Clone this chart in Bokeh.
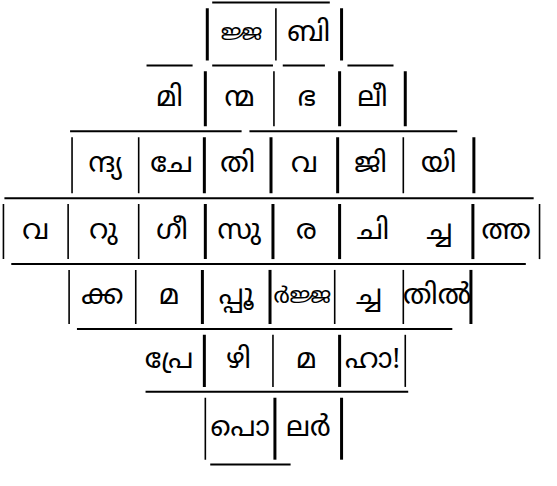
from bokeh.plotting import figure
from bokeh.models import Range1d, ColumnDataSource
from bokeh.core.properties import value
from bokeh.embed import file_html
from bokeh.resources import INLINE

# ---- puzzle contents (one list per row) ----
row1 = ["ജ്ജ", "ബി"]
row2 = ["മി", "ന്മ", "ഭ", "ലീ"]
row3 = ["ന്ദ്യ", "ചേ", "തി", "വ", "ജി", "യി"]
row4 = ["വ", "റു", "ഗീ", "സു", "ര", "ചി", "ച്ച", "ത്ത"]
row5 = ["ക്ക", "മ", "പ്പൂ", "ർജ്ജ", "ച്ച", "തിൽ"]
row6 = ["പ്രേ", "ഴി", "മ", "ഹാ!"]
row7 = ["പൊ", "ലർ"]
rows = [row1, row2, row3, row4, row5, row6, row7]

# ---- layout (pixel geometry of the grid) ----
row_tops = [6, 70, 137, 205, 272, 338, 402, 476]
col_edges = [
    [215, 285, 352],
    [140, 213, 283, 350, 417],
    [77, 145, 212, 280, 348, 415, 487],
    [7, 73, 145, 213, 282, 350, 418, 486, 554],
    [74, 142, 210, 279, 345, 415, 484],
    [140, 212, 282, 350, 417],
    [213, 284, 352],
]
hidden_edges = {(1, 140), (3, 418), (5, 140)}
thick_edges = {(1, 213), (1, 350), (1, 417), (2, 212), (2, 280), (2, 348), (2, 487),
               (3, 213), (3, 486), (4, 210), (4, 279), (4, 484), (5, 212), (5, 350),
               (6, 284), (6, 352), (0, 352), (0, 215), (3, 282), (3, 350)}
hlines = [
    (6, 220, 340),
    (70, 153, 200), (70, 220, 282), (70, 292, 335), (70, 358, 405),
    (137, 75, 250), (137, 258, 470),
    (205, 8, 548),
    (272, 15, 540),
    (338, 82, 465),
    (402, 152, 420),
    (476, 218, 300),
]

p = figure(width=541, height=470, output_backend="svg", toolbar_location=None,
           x_range=Range1d(4, 556), y_range=Range1d(482, 4), min_border=0)
p.axis.visible = False
p.grid.visible = False
p.outline_line_color = None
p.background_fill_color = "white"
p.border_fill_color = "white"

# horizontal rules
p.segment(x0=[h[1] for h in hlines], x1=[h[2] for h in hlines],
          y0=[h[0] for h in hlines], y1=[h[0] for h in hlines],
          line_color="black", line_width=2)

# vertical rules and letters
vx, vy0, vy1, vw = [], [], [], []
tx, ty, tt, ts = [], [], [], []
for i, (chars, edges) in enumerate(zip(rows, col_edges)):
    top, bot = row_tops[i], row_tops[i + 1]
    for e in edges:
        if (i, e) in hidden_edges:
            continue
        vx.append(e)
        vy0.append(top + 6)
        vy1.append(bot - 5)
        vw.append(3 if (i, e) in thick_edges else 1.6)
    for k, c in enumerate(chars):
        tx.append((edges[k] + edges[k + 1]) / 2)
        ty.append((top + bot) / 2 + 1)
        tt.append(c)
        # wide stacked conjuncts are narrower in the print: shrink them
        ts.append("22px" if "ജ്ജ" in c else "28px")

src = ColumnDataSource(dict(x=tx, y=ty, text=tt, size=ts))
p.segment(x0=vx, x1=vx, y0=vy0, y1=vy1, line_color="black", line_width=vw)
p.text(x="x", y="y", text="text", source=src, text_align="center", text_baseline="middle",
       text_font=value("Noto Sans Malayalam"), text_font_size="size", text_color="black")

open("out.html", "w").write(file_html(p, INLINE))
